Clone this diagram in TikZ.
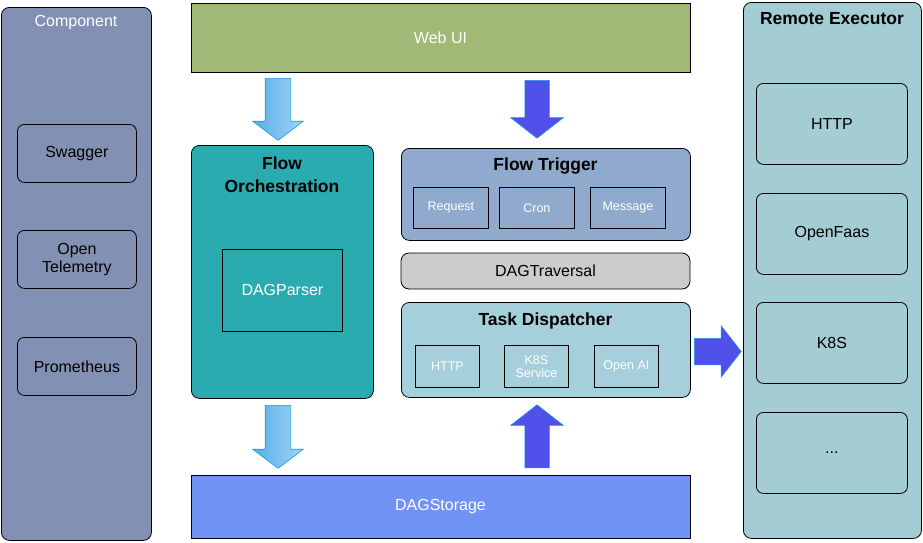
\documentclass[tikz,border=0pt]{standalone}
\usepackage{fontspec}
\setmainfont{Liberation Sans}
\usetikzlibrary{shapes.arrows}
\definecolor{compfill}{RGB}{130,144,180}
\definecolor{webfill}{RGB}{160,185,119}
\definecolor{orchfill}{RGB}{42,171,176}
\definecolor{trigfill}{RGB}{143,170,204}
\definecolor{travfill}{RGB}{204,204,204}
\definecolor{taskfill}{RGB}{166,207,220}
\definecolor{storefill}{RGB}{112,147,245}
\definecolor{remfill}{RGB}{163,204,211}
\definecolor{arrdark}{RGB}{80,80,235}
\definecolor{arrline}{RGB}{27,150,225}
\definecolor{arrleft}{RGB}{90,175,230}
\definecolor{arrright}{RGB}{155,212,246}
\begin{document}
\begin{tikzpicture}[x=1pt, y=-1pt,
    panel/.style={draw, line width=0.8pt, rounded corners=8pt, anchor=north west, inner sep=0pt},
    item/.style={draw, line width=0.8pt, rounded corners=7pt, anchor=north west, inner sep=0pt, align=center, font=\fontsize{16}{18}\selectfont},
    sub/.style={draw, line width=0.8pt, anchor=north west, inner sep=0pt, align=center, text=white, font=\fontsize{12.5}{14}\selectfont},
    title/.style={font=\fontsize{17.5}{23}\selectfont\bfseries, align=center, inner sep=0pt},
    fatlight/.style={single arrow, draw=arrline, line width=0.6pt, left color=arrleft, right color=arrright, inner sep=12.5pt, minimum width=50pt, single arrow head extend=12.5pt, single arrow tip angle=106, anchor=tail},
    fatdark/.style={single arrow, draw=arrline, fill=arrdark, line width=0.5pt, inner sep=12pt, minimum width=52pt, single arrow head extend=14pt, single arrow tip angle=104, anchor=tail}]
    \useasboundingbox (0,0) rectangle (923,542);
    % left column
    \node[panel, fill=compfill, minimum width=150pt, minimum height=533pt] (comp) at (1,7) {};
    \node[font=\fontsize{16}{18}\selectfont, text=white, inner sep=0pt] (comptitle) at (76,22.5) {Component};
    \node[item, fill=compfill, minimum width=119pt, minimum height=58pt] (swagger) at (17,124) {Swagger};
    \node[item, fill=compfill, minimum width=119pt, minimum height=58pt] (otel) at (17,230) {Open\\Telemetry};
    \node[item, fill=compfill, minimum width=119pt, minimum height=58pt] (prom) at (17,337) {Prometheus};
    % middle
    \node[panel, rounded corners=0pt, fill=webfill, minimum width=499pt, minimum height=69pt, text=white, font=\fontsize{16}{18}\selectfont, anchor=center] (webui) at (440.5,37.5) {Web UI};
    \node[panel, fill=orchfill, minimum width=182pt, minimum height=253pt] (orch) at (191,145) {};
    \node[title] (orchtitle) at (282,174.5) {Flow\\Orchestration};
    \node[sub, fill=orchfill, minimum width=120pt, minimum height=82pt, font=\fontsize{16}{18}\selectfont] (parser) at (222,249) {DAGParser};
    \node[panel, fill=trigfill, minimum width=289pt, minimum height=92pt] (trigger) at (401,148) {};
    \node[title] (trigtitle) at (545.5,166.5) {Flow Trigger};
    \node[sub, fill=trigfill, minimum width=75pt, minimum height=41pt] (request) at (413,187) {Request};
    \node[sub, fill=trigfill, minimum width=75pt, minimum height=41pt] (cron) at (499,187) {Cron};
    \node[sub, fill=trigfill, minimum width=75pt, minimum height=41pt] (message) at (590,187) {Message};
    \node[panel, fill=travfill, minimum width=289pt, minimum height=36pt, anchor=center, font=\fontsize{16}{18}\selectfont] (traversal) at (545.5,271) {DAGTraversal};
    \node[panel, fill=taskfill, minimum width=289pt, minimum height=95pt] (task) at (401,302) {};
    \node[title] (tasktitle) at (545.5,320.5) {Task Dispatcher};
    \node[sub, fill=taskfill, minimum width=64pt, minimum height=42pt] (dhttp) at (415,345) {HTTP};
    \node[sub, fill=taskfill, minimum width=64pt, minimum height=42pt, font=\fontsize{12.5}{13}\selectfont] (dk8s) at (504,345) {K8S\\Service};
    \node[sub, fill=taskfill, minimum width=64pt, minimum height=42pt] (dopenai) at (594,345) {Open AI};
    \node[panel, rounded corners=0pt, fill=storefill, minimum width=499pt, minimum height=63pt, text=white, font=\fontsize{16}{18}\selectfont, anchor=center] (storage) at (440.5,506.5) {DAGStorage};
    % right column
    \node[panel, fill=remfill, minimum width=178pt, minimum height=536pt] (remote) at (743,2) {};
    \node[title] (remtitle) at (832,19) {Remote Executor};
    \node[item, fill=remfill, minimum width=151pt, minimum height=81pt] (rhttp) at (756,83) {HTTP};
    \node[item, fill=remfill, minimum width=151pt, minimum height=81pt] (openfaas) at (756,193) {OpenFaas};
    \node[item, fill=remfill, minimum width=151pt, minimum height=81pt] (rk8s) at (756,302) {K8S};
    \node[item, fill=remfill, minimum width=151pt, minimum height=81pt] (more) at (756,412) {...};
    % block arrows
    \node[fatlight, minimum height=62pt, shape border rotate=270] (uitoorch) at (278,78) {};
    \node[fatdark, minimum height=58pt, shape border rotate=270] (uitotrig) at (537,80) {};
    \node[fatlight, minimum height=63pt, shape border rotate=270] (orchtostore) at (278,405) {};
    \node[fatdark, minimum height=63pt, shape border rotate=90] (storetotask) at (537,468) {};
    \node[fatdark, minimum height=47pt, inner sep=13pt, minimum width=51pt, single arrow head extend=12.5pt] (tasktorem) at (694,351.5) {};
\end{tikzpicture}
\end{document}
